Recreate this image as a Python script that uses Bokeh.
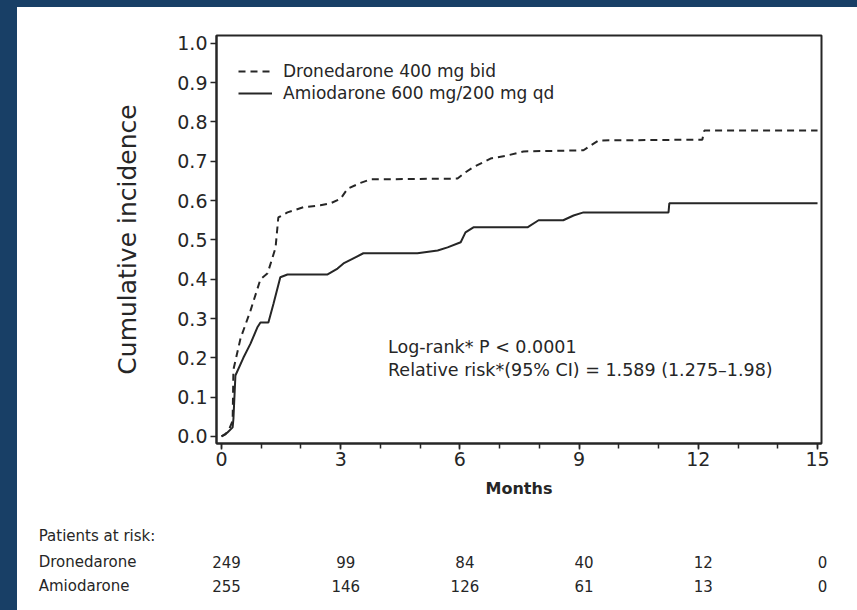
from bokeh.plotting import figure
from bokeh.layouts import column
from bokeh.models import (Legend, LegendItem, Label, FixedTicker, Range1d,
                          CustomJSTickFormatter)
from bokeh.core.properties import value
from bokeh.embed import file_html
from bokeh.resources import INLINE

# Cumulative incidence curves (months, cumulative incidence)
dron_months = [0, 0.1, 0.2, 0.28, 0.3, 0.48, 0.73, 0.98, 1.16, 1.36, 1.43, 1.66,
               2.06, 2.49, 2.74, 3.0, 3.17, 3.5, 3.75, 5.94, 6.14, 6.34, 6.77,
               7.2, 7.6, 9.11, 9.29, 9.49, 12.1, 12.15, 15.0]
dron_incidence = [0, 0.005, 0.02, 0.04, 0.17, 0.25, 0.32, 0.40, 0.415, 0.48, 0.557,
                  0.57, 0.583, 0.588, 0.593, 0.605, 0.63, 0.645, 0.654, 0.656,
                  0.672, 0.685, 0.707, 0.715, 0.725, 0.728, 0.74, 0.753, 0.755,
                  0.778, 0.778]

amio_months = [0, 0.15, 0.28, 0.3, 0.35, 0.55, 0.73, 0.9, 0.98, 1.18, 1.31, 1.48,
               1.66, 2.67, 2.92, 3.07, 3.32, 3.57, 4.93, 5.44, 5.69, 6.02, 6.14,
               6.34, 7.7, 7.98, 8.6, 8.86, 9.11, 11.25, 11.27, 15.0]
amio_incidence = [0, 0.01, 0.023, 0.045, 0.155, 0.2, 0.236, 0.277, 0.29, 0.29,
                  0.338, 0.405, 0.412, 0.412, 0.427, 0.44, 0.453, 0.466, 0.466,
                  0.473, 0.481, 0.494, 0.519, 0.532, 0.532, 0.55, 0.55, 0.562,
                  0.57, 0.57, 0.593, 0.593]

series_labels = ["Dronedarone 400 mg bid", "Amiodarone 600 mg/200 mg qd"]

x_ticks = [0, 3, 6, 9, 12, 15]
x_minor_ticks = list(range(0, 16))
y_ticks = [0.0, 0.1, 0.2, 0.3, 0.4, 0.5, 0.6, 0.7, 0.8, 0.9, 1.0]

# Numbers at risk
risk_months = [0, 3, 6, 9, 12, 15]
risk_groups = ["Dronedarone", "Amiodarone"]
risk_dron = [249, 99, 84, 40, 12, 0]
risk_amio = [255, 146, 126, 61, 13, 0]
risk_title = "Patients at risk:"

stats_lines = ["Log-rank* P < 0.0001",
               "Relative risk*(95% CI) = 1.589 (1.275\u20131.98)"]

BG = "#183f66"
INK = "#262626"
FONT = "DejaVu Sans"
WHITE_HOST = {"background-color": "white"}

# Plot geometry (pixels) shared by the curve panel and the at-risk table
PANEL_W = 840
BORDER_L, BORDER_R = 199, 36
X0, X1 = -0.126, 15.1
Y0, Y1 = -0.018, 1.02
PX_PER_MONTH = (PANEL_W - BORDER_L - BORDER_R) / (X1 - X0)

# ---------------------------------------------------------------- curves
p = figure(width=PANEL_W, height=503, x_range=Range1d(X0, X1),
           y_range=Range1d(Y0, Y1),
           output_backend="svg", toolbar_location=None,
           min_border_left=BORDER_L, min_border_right=BORDER_R,
           min_border_top=28, min_border_bottom=67)
p.margin = (7, 0, 0, 17)
p.styles = WHITE_HOST
p.background_fill_color = "white"
p.border_fill_color = "white"
p.grid.visible = False
p.outline_line_color = INK
p.outline_line_width = 2

for ax in (p.xaxis[0], p.yaxis[0]):
    ax.axis_line_color = INK
    ax.axis_line_width = 2
    ax.major_tick_line_color = INK
    ax.major_tick_line_width = 1.5
    ax.minor_tick_line_color = INK
    ax.minor_tick_line_width = 1.5
    ax.major_tick_in = 0
    ax.major_tick_out = 6
    ax.minor_tick_in = 0
    ax.minor_tick_out = 5
    ax.major_label_text_font = FONT
    ax.major_label_text_color = INK
    ax.major_label_text_font_size = "19px"
    ax.axis_label_text_font = FONT
    ax.axis_label_text_color = INK
    ax.axis_label_text_font_style = "normal"

p.xaxis.ticker = FixedTicker(ticks=x_ticks, minor_ticks=x_minor_ticks)
p.xaxis.major_label_standoff = 2
p.xaxis.axis_label = "Months"
p.xaxis.axis_label_text_font_size = "16px"
p.xaxis.axis_label_text_font_style = "bold"
p.xaxis.axis_label_standoff = 10

p.yaxis.ticker = FixedTicker(ticks=y_ticks, minor_ticks=[])
p.yaxis.formatter = CustomJSTickFormatter(code="return tick.toFixed(1);")
p.yaxis.major_label_standoff = 3
p.yaxis.axis_label = "Cumulative incidence"
p.yaxis.axis_label_text_font_size = "25px"
p.yaxis.axis_label_standoff = 32

r_dron = p.line(dron_months, dron_incidence, line_color=INK, line_width=2,
                line_dash="7 5")
r_amio = p.line(amio_months, amio_incidence, line_color=INK, line_width=2)

legend = Legend(items=[LegendItem(label=series_labels[0], renderers=[r_dron]),
                       LegendItem(label=series_labels[1], renderers=[r_amio])],
                location=(22, 340), padding=0, margin=0, spacing=2,
                glyph_width=34, glyph_height=20, label_height=20,
                label_standoff=11, border_line_color=None,
                background_fill_alpha=0,
                label_text_font=FONT, label_text_font_size="17px",
                label_text_color=INK)
p.add_layout(legend)

for i, line in enumerate(stats_lines):
    p.add_layout(Label(x=4.19, y=0.227 - i * 0.0585, text=line,
                       text_font=FONT, text_font_size="17.5px", text_color=INK,
                       text_baseline="middle", text_align="left"))

# ---------------------------------------------------------- at-risk table
# Same horizontal scale as the curves; the frame spans the whole panel width.
t = figure(width=PANEL_W, height=100,
           x_range=Range1d(X0 - BORDER_L / PX_PER_MONTH,
                           X1 + BORDER_R / PX_PER_MONTH),
           y_range=Range1d(3.06, -1.19),
           x_axis_type=None, y_axis_type=None,
           output_backend="svg", toolbar_location=None,
           min_border=0)
t.styles = WHITE_HOST
t.outline_line_color = None
t.background_fill_color = "white"
t.border_fill_color = "white"
t.grid.visible = False

NAME_X = -4.6
TABLE_FONT = "15px"
t.text(x=[NAME_X], y=[-0.1], text=[risk_title], text_font=value(FONT),
       text_font_size=TABLE_FONT, text_color=INK, text_baseline="middle",
       text_align="left")
for row, (name, counts) in enumerate(zip(risk_groups, [risk_dron, risk_amio]),
                                     start=1):
    t.text(x=[NAME_X], y=[row], text=[name], text_font=value(FONT),
           text_font_size=TABLE_FONT, text_color=INK, text_baseline="middle",
           text_align="left")
    t.text(x=risk_months, y=[row] * len(counts), text=[str(c) for c in counts],
           text_font=value(FONT), text_font_size=TABLE_FONT, text_color=INK,
           text_baseline="middle", text_align="center", x_offset=5)

# The table sits in its own box so its frame is not lined up with the curves'.
table_box = column(t, width=PANEL_W, height=100, margin=(0, 0, 0, 17))

page = column(p, table_box, width=857, height=610, spacing=0,
              styles={"background-color": BG})

open("out.html", "w").write(file_html(page, INLINE))
